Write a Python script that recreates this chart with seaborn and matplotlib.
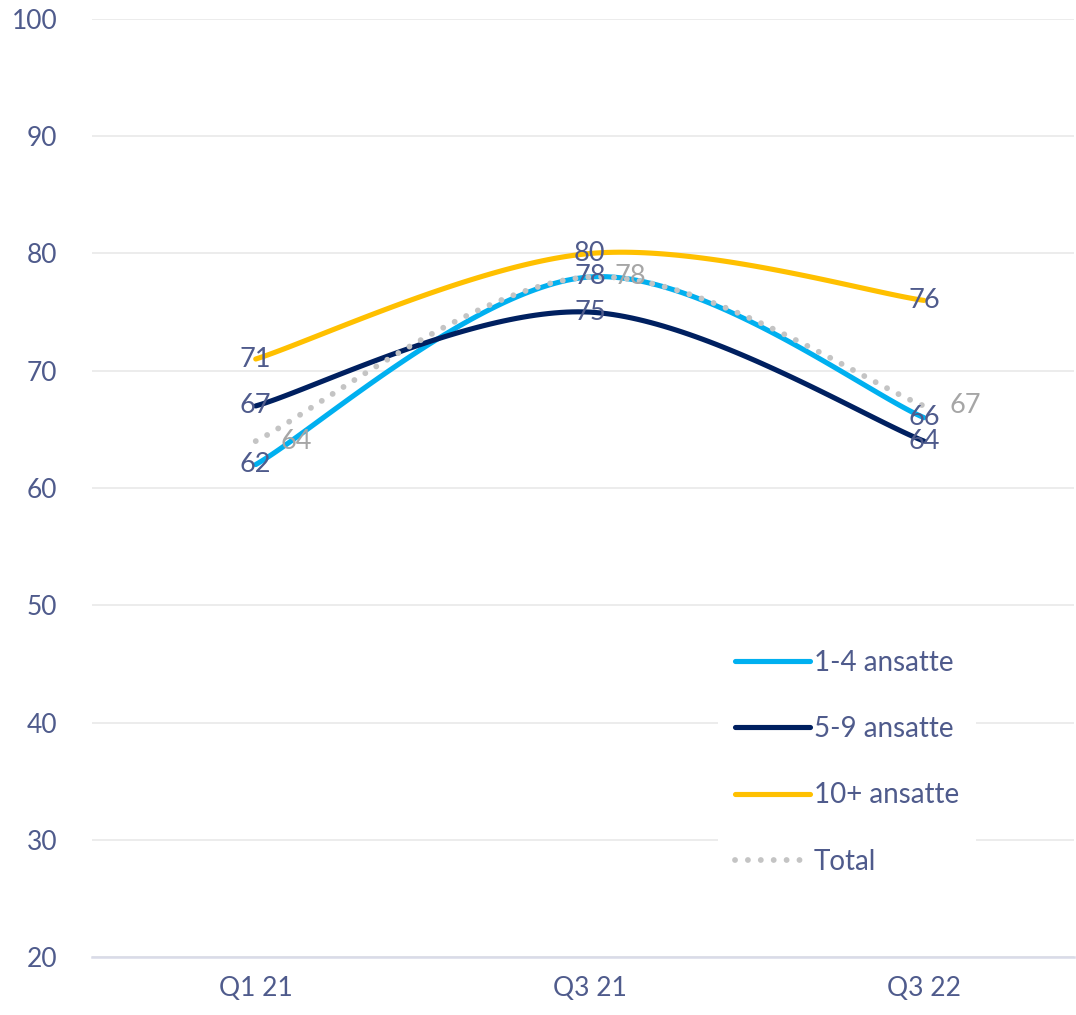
import numpy as np
import pandas as pd
import matplotlib
matplotlib.use("Agg")
import matplotlib.pyplot as plt
import seaborn as sns

# Data
quarters = ["Q1 21", "Q3 21", "Q3 22"]
ansatte_1_4 = [62, 78, 66]
ansatte_5_9 = [67, 75, 64]
ansatte_10 = [71, 80, 76]
total = [64, 78, 67]

series_names = ["1-4 ansatte", "5-9 ansatte", "10+ ansatte", "Total"]
series_values = [ansatte_1_4, ansatte_5_9, ansatte_10, total]
colors = ["#00B0F0", "#002060", "#FFC000", "#C4C4C4"]

text_col = "#4F5B8C"
label_gray = "#A6A6A6"


def smooth(y, n=60):
    # Excel-style smoothed line: cubic Bezier segments, Catmull-Rom tangents
    x = np.arange(len(y), dtype=float)
    p = np.column_stack([x, np.asarray(y, dtype=float)])
    pts = np.vstack([p[0], p, p[-1]])
    out = []
    t = np.linspace(0, 1, n)[:, None]
    for i in range(len(p) - 1):
        p0, p1, p2, p3 = pts[i], pts[i + 1], pts[i + 2], pts[i + 3]
        c1 = p1 + (p2 - p0) / 6
        c2 = p2 - (p3 - p1) / 6
        seg = ((1 - t) ** 3) * p1 + 3 * ((1 - t) ** 2) * t * c1 + 3 * (1 - t) * t ** 2 * c2 + t ** 3 * p2
        out.append(seg if i == 0 else seg[1:])
    return np.vstack(out)


rows = []
for name, vals in zip(series_names, series_values):
    s = smooth(vals)
    rows.append(pd.DataFrame({"x": s[:, 0], "y": s[:, 1], "serie": name}))
df = pd.concat(rows, ignore_index=True)

sns.set_theme(style="white")
plt.rcParams["font.family"] = ["Lato", "DejaVu Sans"]

fig = plt.figure(figsize=(10.76, 10.15), dpi=100)
ax = fig.add_axes([0.0855, 0.0571, 0.913, 0.9242])

for name, col in zip(series_names, colors):
    sub = df[df["serie"] == name]
    if name == "Total":
        sns.lineplot(data=sub, x="x", y="y", ax=ax, color=col, lw=4.2,
                     dashes=False, label=name, sort=False, zorder=3)
        line = ax.lines[-1]
        line.set_dashes([0.01, 2.2])
        line.set_dash_capstyle("round")
    else:
        sns.lineplot(data=sub, x="x", y="y", ax=ax, color=col, lw=3.7,
                     label=name, sort=False, zorder=2)
        ax.lines[-1].set_solid_capstyle("round")

# data labels
for name, vals in zip(series_names, series_values):
    for i, v in enumerate(vals):
        if name == "Total":
            ax.text(i + 0.075, v, str(v), color=label_gray, fontsize=19.5,
                    ha="left", va="center", zorder=5)
        else:
            ax.text(i, v, str(v), color=text_col, fontsize=19.5,
                    ha="center", va="center", zorder=5)

ax.set_ylim(20, 100)
ax.set_xlim(-0.49, 2.45)
ax.set_yticks(range(20, 101, 10))
ax.set_xticks(range(len(quarters)))
ax.set_xticklabels(quarters)
ax.set_xlabel("")
ax.set_ylabel("")
ax.tick_params(axis="both", length=0, labelsize=19, labelcolor=text_col)
ax.tick_params(axis="y", pad=25)
ax.tick_params(axis="x", pad=14)

ax.grid(axis="y", color="#EBEBEB", lw=1.3)
ax.set_axisbelow(True)
for side in ["top", "right", "left"]:
    ax.spines[side].set_visible(False)
ax.spines["bottom"].set_color("#D9DBE8")
ax.spines["bottom"].set_linewidth(1.8)

leg = ax.legend(loc="upper left", bbox_to_anchor=(0.623, 0.36), frameon=True,
                fontsize=20, labelcolor=text_col, handlelength=2.7,
                handletextpad=0.15, labelspacing=1.45, borderpad=0.6)
leg.get_frame().set_facecolor("white")
leg.get_frame().set_edgecolor("none")
leg.get_frame().set_alpha(1)
for h in leg.get_lines():
    h.set_solid_capstyle("round")

fig.savefig("out.png", dpi=100)
